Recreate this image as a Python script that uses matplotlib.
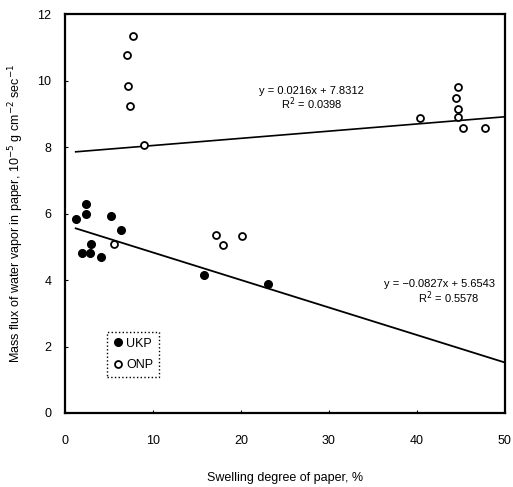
import numpy as np
import matplotlib
matplotlib.use("Agg")
import matplotlib.pyplot as plt

plt.rcParams["font.family"] = ["Liberation Sans", "DejaVu Sans"]

# UKP (filled circles)
ukp_x = [1.25, 2.35, 2.35, 5.2, 6.3, 2.95, 1.95, 2.8, 4.05, 15.8, 23.1]
ukp_y = [5.83, 6.28, 5.98, 5.92, 5.52, 5.08, 4.82, 4.82, 4.70, 4.16, 3.87]

# ONP (open circles)
onp_x = [7.7, 7.0, 7.15, 7.35, 9.0, 5.5, 17.2, 17.9, 20.1,
         40.4, 44.7, 44.4, 44.7, 44.7, 45.3, 47.8]
onp_y = [11.35, 10.77, 9.84, 9.24, 8.05, 5.07, 5.35, 5.04, 5.32,
         8.88, 9.80, 9.49, 9.16, 8.89, 8.58, 8.58]

# regression lines
ukp_fit = (-0.0827, 5.6543)
onp_fit = (0.0216, 7.8312)
fit_x = np.array([1.2, 50])

fig = plt.figure(figsize=(5.13, 4.87), dpi=100)
ax = fig.add_axes([0.127, 0.152, 0.857, 0.819])

ax.plot(fit_x, onp_fit[0] * fit_x + onp_fit[1], color="black", lw=1.2)
ax.plot(fit_x, ukp_fit[0] * fit_x + ukp_fit[1], color="black", lw=1.3)

ax.plot(ukp_x, ukp_y, "o", color="black", ms=5.5, label="UKP", clip_on=False)
ax.plot(onp_x, onp_y, "o", mfc="white", mec="black", mew=1.3, ms=5,
        label="ONP", clip_on=False)

ax.text(28.0, 9.6, "y = 0.0216x + 7.8312", fontsize=8, ha="center")
ax.text(28.0, 9.15, "R$^2$ = 0.0398", fontsize=8, ha="center")
ax.text(42.6, 3.78, "y = \u22120.0827x + 5.6543", fontsize=8, ha="center")
ax.text(43.6, 3.33, "R$^2$ = 0.5578", fontsize=8, ha="center")

ax.set_xlim(0, 50)
ax.set_ylim(0, 12)
ax.set_xticks([0, 10, 20, 30, 40, 50])
ax.set_yticks([0, 2, 4, 6, 8, 10, 12])
ax.tick_params(direction="in", length=2, labelsize=9)
ax.tick_params(axis="x", pad=16)
ax.tick_params(axis="y", pad=10)
for s in ax.spines.values():
    s.set_linewidth(1.6)

ax.set_xlabel("Swelling degree of paper, %", fontsize=9, labelpad=18)
ax.set_ylabel("Mass flux of water vapor in paper, 10$^{-5}$ g cm$^{-2}$ sec$^{-1}$",
              fontsize=9, labelpad=8)

leg = ax.legend(loc="lower left", bbox_to_anchor=(0.08, 0.075), fontsize=9,
                handletextpad=0.1, handlelength=1.0, borderpad=0.45,
                labelspacing=0.75, fancybox=False, framealpha=1,
                edgecolor="black")
leg.get_frame().set_linestyle(":")
leg.get_frame().set_linewidth(1.0)

fig.savefig("out.png", dpi=100)
